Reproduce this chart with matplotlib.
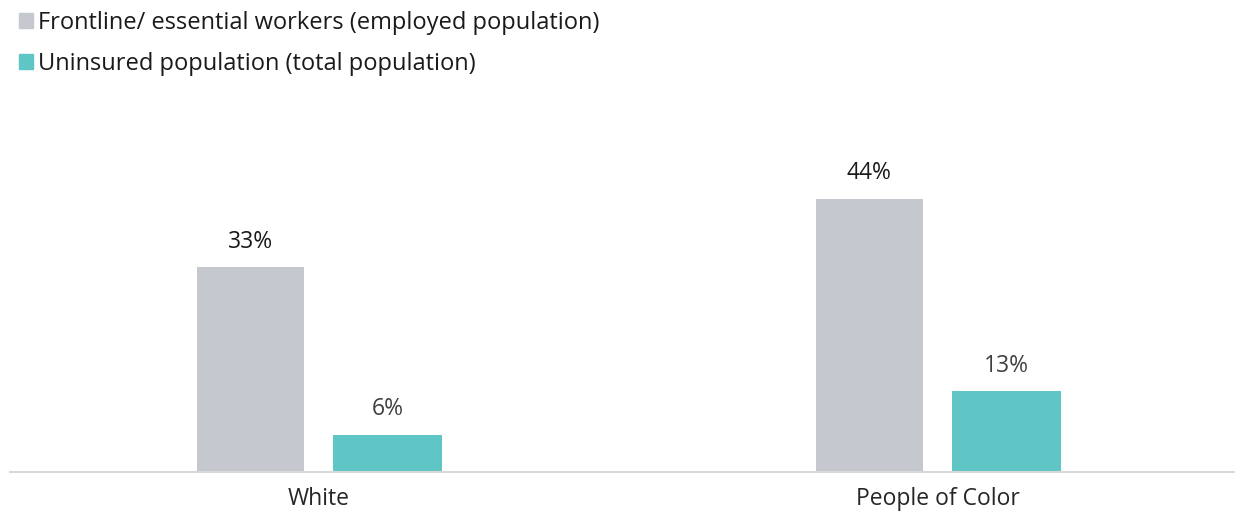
import numpy as np
import matplotlib.pyplot as plt
from matplotlib.patches import Patch

# data
categories = ["White", "People of Color"]
frontline = [33, 44]
uninsured = [6, 13]
series_names = ["Frontline/ essential workers (employed population)",
                "Uninsured population (total population)"]

gray = "#C5C8CF"
teal = "#5FC6C5"

plt.rcParams['font.family'] = ['Open Sans', 'DejaVu Sans']

fig = plt.figure(figsize=(12.35, 5.12), dpi=100)
ax = fig.add_axes([10 / 1235, 40 / 512, 1225 / 1235, 372 / 512])

x = np.arange(len(categories))
b1 = ax.bar(x - 0.111, frontline, width=0.172, color=gray, label=series_names[0])
b2 = ax.bar(x + 0.111, uninsured, width=0.177, color=teal, label=series_names[1])

for rect, v in zip(b1, frontline):
    ax.annotate(f"{v}%", (rect.get_x() + rect.get_width() / 2, v),
                xytext=(0, 10), textcoords="offset points",
                ha="center", va="bottom", fontsize=16.5, color="#1a1a1a")
for rect, v in zip(b2, uninsured):
    ax.annotate(f"{v}%", (rect.get_x() + rect.get_width() / 2, v),
                xytext=(0, 10), textcoords="offset points",
                ha="center", va="bottom", fontsize=16.5, color="#404040")

ax.set_xlim(-0.4992, 1.4798)
ax.set_ylim(0, 60)
ax.set_xticks(x)
ax.set_xticklabels(categories, fontsize=16.5, color="#262626")
ax.tick_params(axis="x", length=0, pad=11)
ax.set_yticks([])
for s in ["top", "right", "left"]:
    ax.spines[s].set_visible(False)
ax.spines["bottom"].set_color("#D9D9D9")
ax.spines["bottom"].set_linewidth(1.5)

handles = [Patch(color=gray), Patch(color=teal)]
fig.legend(handles, series_names, loc="upper left", bbox_to_anchor=(-0.002, 1.02),
           frameon=False, fontsize=17, handlelength=0.6, handleheight=0.6,
           handletextpad=0.2, labelspacing=0.72, labelcolor="#1a1a1a")

fig.savefig("out.png", dpi=100)
